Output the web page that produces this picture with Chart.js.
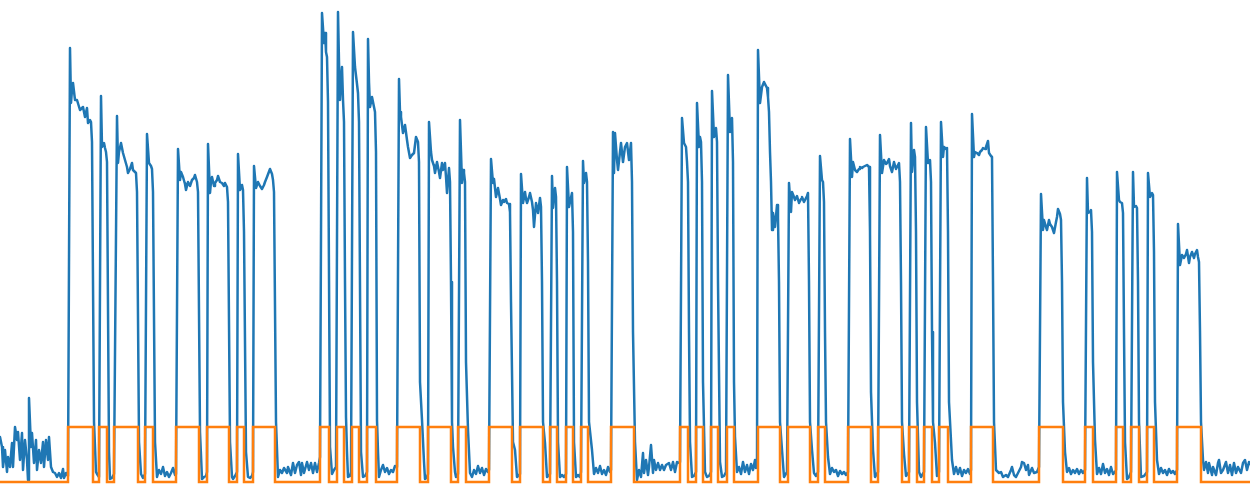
<!DOCTYPE html>
<html>
<head>
<meta charset="utf-8">
<script src="https://cdn.jsdelivr.net/npm/chart.js@4"></script>
<style>
    html, body { margin: 0; padding: 0; background: #fff; }
    #wrap { width: 1250px; height: 498px; position: relative; }
</style>
</head>
<body>
<div id="wrap"><canvas id="signal-chart"></canvas></div>
<script>
// sensor reading [time, value], split in three parts just to keep it readable
var sensorPart1 = [
    [0,45],[2,35],[3,15],[5,32],[7,10],[8,25],[10,15],[12,39],[13,15],[15,55],[17,42],[18,50],[20,22],[22,49],[23,12],[25,42],[27,22],[28,2],[29,84],[31,35],[32,49],[34,19],[36,42],[37,12],[39,32],[41,19],[43,40],[44,15],[46,42],[48,22],[49,45],[51,15],[53,10],[55,9],[57,5],[59,9],[61,4],[63,13],[64,4],[66,9],[68,6],
    [70,434],[71,379],[72,392],[73,399],[75,382],[77,382],[80,372],[83,375],[85,365],[87,374],[88,359],[90,362],[91,360],[92,340],[94,60],[96,10],[97,8],
    [99,5],[101,386],[102,335],[104,339],[105,334],[106,330],[107,320],[109,30],[110,3],[112,4],
    [114,8],[117,366],[118,319],[119,330],[121,339],[123,329],[125,322],[127,315],[128,309],[130,313],[132,319],[133,312],[135,310],[136,309],[137,290],[139,40],[141,8],[143,4],
    [145,8],[147,348],[149,319],[151,316],[152,313],[153,290],[155,40],[157,5],
    [159,12],[161,8],[163,15],[165,6],[167,10],[169,5],[171,9],[173,14],[175,7],
    [176,8],[178,333],[180,302],[181,310],[183,305],[185,298],[186,292],[188,300],[190,296],[192,302],[194,304],[195,307],[197,300],[198,290],[200,50],[202,3],[204,5],[206,6],
    [207,10],[208,338],[210,289],[211,300],[212,305],[214,296],[215,299],[217,302],[218,306],[220,300],[222,299],[224,296],[225,299],[227,295],[228,280],[230,40],[232,5],[233,3],[235,6],
    [237,10],[238,328],[240,292],[242,297],[243,292],[244,250],[246,30],[248,5],[250,4],[252,6],
    [253,10],[254,316],[256,294],[257,297],[258,300],[260,296],[262,293],[264,297],[265,300],[267,305],[270,313],[272,308],[273,302],[274,290],[276,60],[278,5],
    [280,12],[282,9],[284,14],[287,9],[288,15],[291,7],[293,19],[295,9],[297,17],[299,20],[301,7],[302,19],[304,9],[307,20],[309,12],[311,19],[313,9],[315,19],[317,10],[319,19],
    [320,25],[322,469],[324,439],[325,449],[326,430],[327,425],[328,380],[330,35],[332,8],[334,12],
    [336,15],[338,470],[339,420],[340,382],[341,400],[342,415],[343,382],[344,360],[345,200],[346,65],[347,30],[348,5],[350,6],
    [351,10],[353,450],[355,415],[357,398],[358,389],[359,360],[361,30],[363,5],[365,6],
    [367,10],[368,443],[369,400],[370,375],[372,385],[373,380],[375,370],[376,330],[377,62],[378,30],[379,5],
    [381,12],[383,17],[385,10],[387,14],[389,8],[391,12],[393,10],[395,16],
    [397,15],[399,403]
];
var sensorPart2 = [
    [400,370],[401,365],[403,349],[405,357],[407,342],[408,335],[410,324],[412,327],[414,329],[416,345],[418,340],[419,320],[420,100],[422,62],[424,20],[425,3],[427,5],
    [428,8],[429,360],[431,330],[432,322],[434,316],[435,309],[437,320],[439,310],[440,304],[442,319],[443,312],[445,319],[446,305],[447,289],[449,314],[450,300],[451,200],[452,60],[453,35],[455,10],[456,5],
    [458,8],[460,362],[462,299],[463,312],[464,309],[465,300],[466,120],[468,52],[470,9],[472,5],
    [474,12],[476,8],[478,16],[480,9],[482,14],[484,7],[486,13],[488,10],
    [489,12],[491,323],[493,299],[494,303],[496,285],[498,294],[500,283],[501,277],[503,282],[504,280],[506,283],[507,279],[509,278],[510,270],[511,180],[513,40],[515,32],[517,5],
    [520,8],[521,308],[523,279],[525,290],[526,283],[527,279],[529,285],[530,289],[532,280],[533,272],[534,255],[536,279],[538,269],[540,284],[541,275],[542,200],[543,60],[545,39],[547,5],
    [550,8],[552,306],[553,274],[555,294],[556,285],[557,200],[558,40],[560,5],[562,7],[564,5],
    [566,8],[567,315],[569,275],[570,280],[572,289],[573,250],[574,40],[576,5],[578,7],[580,5],
    [581,10],[583,321],[584,299],[586,309],[587,300],[588,220],[589,60],[592,32],[594,8],
    [596,14],[598,9],[600,16],[602,8],[604,12],[606,7],[608,15],[610,10],
    [611,12],[613,350],[614,309],[615,349],[617,322],[618,312],[620,330],[621,339],[623,320],[625,335],[627,339],[629,322],[631,339],[632,300],[633,150],[635,40],[637,2],
    [639,12],[641,5],[643,29],[644,9],[646,22],[648,7],[649,15],[651,37],[653,9],[654,22],[656,12],[658,19],[660,12],[662,17],[664,12],[666,17],[669,19],[671,12],[673,20],[675,10],[677,20],[678,19],
    [680,20],[682,364],[684,339],[686,335],[687,320],[688,300],[689,150],[690,40],[692,5],[694,6],
    [696,10],[697,379],[699,335],[700,345],[701,340],[702,300],[703,100],[705,10],[707,5],[709,6],
    [711,10],[712,391],[714,345],[716,354],[717,340],[718,200],[720,20],[722,5],[724,6],
    [726,10],[728,407],[730,350],[732,364],[733,320],[734,100],[735,45],[737,10],
    [739,15],[741,8],[743,20],[745,10],[747,17],[749,8],[751,18],[753,12],[755,22],[756,14],
    [757,20],[758,432],[760,379],[762,395],[764,400],[766,396],[767,394],[768,385],[769,370],[770,330],[771,300],[772,252],[773,269],[775,255],[777,277],[778,265],[779,200],[780,60],[782,32],[784,5],
    [787,10],[789,299],[791,270],[792,290],[794,285],[795,282],[797,286],[799,279]
];
var sensorPart3 = [
    [801,283],[802,285],[804,280],[805,282],[807,286],[808,289],[809,200],[810,60],[812,32],[814,9],[816,6],
    [818,10],[820,326],[822,302],[823,300],[824,280],[825,150],[826,60],[828,25],[830,8],
    [832,14],[834,10],[836,12],[838,6],[840,11],[842,8],[844,10],[846,7],
    [848,10],[850,343],[852,305],[853,320],[855,312],[857,310],[859,313],[860,315],[862,314],[863,315],[865,316],[867,317],[869,315],[870,250],[871,90],[873,32],[875,5],
    [878,10],[880,347],[882,309],[884,322],[886,318],[887,319],[889,323],[890,316],[892,310],[894,320],[896,313],[897,315],[899,319],[900,300],[901,200],[902,60],[904,28],[906,6],
    [909,10],[911,359],[912,310],[914,332],[915,325],[916,250],[917,80],[919,10],[921,5],
    [924,10],[926,355],[928,319],[930,322],[931,300],[932,150],[933,60],[935,39],[937,6],
    [939,10],[941,360],[943,325],[944,335],[946,333],[947,334],[948,250],[949,80],[952,22],[954,8],
    [956,15],[958,8],[960,14],[962,6],[964,12],[966,9],[968,13],[970,8],
    [971,12],[972,368],[974,325],[975,330],[977,329],[979,327],[980,330],[982,332],[983,334],[985,333],[986,335],[988,341],[989,329],[991,326],[992,325],[993,200],[994,60],[996,12],
    [999,9],[1001,10],[1003,5],[1006,7],[1008,5],[1011,12],[1012,15],[1014,7],[1016,5],[1018,9],[1021,15],[1022,20],[1024,19],[1026,12],[1028,17],[1029,7],[1032,14],[1034,9],[1037,10],
    [1039,15],[1041,288],[1043,252],[1044,262],[1046,255],[1047,252],[1049,262],[1050,258],[1052,255],[1054,249],[1056,260],[1057,265],[1058,273],[1060,268],[1061,262],[1062,200],[1063,80],[1065,30],[1067,10],
    [1069,14],[1071,8],[1073,12],[1075,9],[1077,13],[1079,8],[1081,12],[1083,9],
    [1085,12],[1087,304],[1088,269],[1090,270],[1091,272],[1092,250],[1093,120],[1095,42],[1097,8],
    [1099,14],[1101,8],[1103,18],[1105,9],[1107,13],[1109,7],[1111,15],[1113,8],[1115,10],
    [1116,12],[1117,310],[1119,282],[1120,280],[1122,279],[1123,269],[1124,150],[1125,40],[1127,3],[1129,5],
    [1131,10],[1133,310],[1134,275],[1136,276],[1137,274],[1138,200],[1139,60],[1141,5],[1144,6],
    [1147,10],[1148,309],[1150,285],[1152,289],[1153,287],[1154,230],[1155,80],[1157,22],[1159,8],
    [1161,14],[1163,9],[1165,12],[1167,7],[1169,13],[1171,9],[1173,11],[1175,8],
    [1177,12],[1178,258],[1180,217],[1182,227],[1184,224],[1186,228],[1187,232],[1189,219],[1190,225],[1192,230],[1194,224],[1195,228],[1197,232],[1198,225],[1199,220],[1200,150],[1201,60],[1203,22],
    [1204,12],[1206,20],[1208,9],[1209,19],[1212,7],[1213,15],[1216,7],[1218,19],[1219,22],[1221,9],[1223,12],[1226,20],[1228,9],[1230,17],[1232,7],[1234,19],[1236,9],[1238,15],[1241,9],[1243,19],[1245,22],[1247,12],[1249,20],[1250,18]
];

// on/off label: time where it switches and the state from there on
var labelTimes = [0,68,93,99,107,114,138,145,153,176,199,207,229,237,244,253,275,320,329,337,344,352,359,367,376,397,420,428,451,458,466,489,512,520,543,550,557,566,573,581,588,611,634,680,688,696,703,711,718,727,734,758,780,788,810,818,825,848,871,878,902,909,917,924,932,939,948,971,993,1039,1063,1085,1093,1116,1123,1131,1139,1147,1154,1177,1201,1250];
var labelStates = [0,1,0,1,0,1,0,1,0,1,0,1,0,1,0,1,0,1,0,1,0,1,0,1,0,1,0,1,0,1,0,1,0,1,0,1,0,1,0,1,0,1,0,1,0,1,0,1,0,1,0,1,0,1,0,1,0,1,0,1,0,1,0,1,0,1,0,1,0,1,0,1,0,1,0,1,0,1,0,1,0,0];

var sensor = sensorPart1.concat(sensorPart2, sensorPart3).map(function (p) {
    return {x: p[0], y: p[1]};
});
var labels = labelTimes.map(function (t, i) {
    return {x: t, y: labelStates[i]};
});

var el = document.getElementById('signal-chart');
new Chart(el, {
    type: 'line',
    data: {
        datasets: [{
            label: 'signal',
            data: sensor,
            borderColor: '#1f77b4',
            borderWidth: 2.5,
            borderJoinStyle: 'round',
            borderCapStyle: 'round',
            pointRadius: 0,
            tension: 0,
            yAxisID: 'y',
            order: 2
        }, {
            label: 'state',
            data: labels,
            borderColor: '#ff7f0e',
            borderWidth: 2.5,
            borderJoinStyle: 'miter',
            pointRadius: 0,
            stepped: true,
            yAxisID: 'y2',
            order: 1
        }]
    },
    options: {
        responsive: true,
        maintainAspectRatio: false,
        animation: false,
        layout: {padding: 0},
        plugins: {
            legend: {display: false},
            tooltip: {enabled: false}
        },
        scales: {
            x: {type: 'linear', min: 0, max: 1250, display: false},
            y: {min: -16, max: 482, display: false},
            y2: {min: -0.291, max: 8.764, display: false}
        }
    }
});
</script>
</body>
</html>
